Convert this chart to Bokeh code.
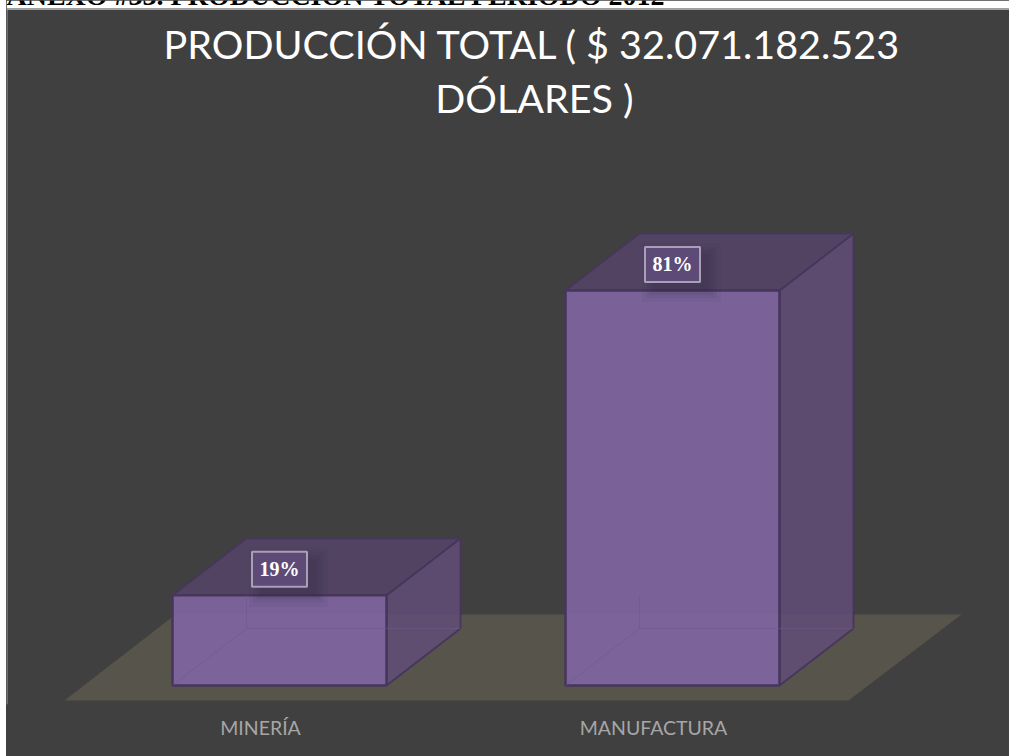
from bokeh.core.properties import value
from bokeh.embed import file_html
from bokeh.models import FixedTicker, Range1d
from bokeh.plotting import figure
from bokeh.resources import INLINE

heading = "ANEXO #33. PRODUCCIÓN TOTAL PERÍODO 2012"
title_lines = ["PRODUCCIÓN TOTAL ( $ 32.071.182.523", "DÓLARES )"]
categories = ["MINERÍA", "MANUFACTURA"]
shares = [18.5, 81.0]
share_labels = ["19%", "81%"]

PAGE_W, PAGE_H = 1009, 756
LEFT = 6
W, H = PAGE_W - LEFT, PAGE_H
BOTTOM = 52
X_UNIT, Y_UNIT = 393.0, 4.877
TICK0_PX, BASE_PX = 260.0, 685.0
frame_h = H - BOTTOM
SHIFT = 19 / X_UNIT
HALF = 107 / X_UNIT
DX, DY = 74 / X_UNIT, 57 / Y_UNIT


def xd(px):
    return (px - TICK0_PX) / X_UNIT


def yd(px):
    return (BASE_PX - px) / Y_UNIT


p = figure(width=W, height=H, output_backend="svg", toolbar_location=None,
           x_range=Range1d(xd(LEFT), xd(PAGE_W)),
           y_range=Range1d(yd(frame_h), yd(0)),
           min_border=0, min_border_bottom=BOTTOM, min_border_left=0, min_border_right=0, min_border_top=0,
           background_fill_color="#404040", border_fill_color="#404040",
           outline_line_color=None,
           styles={"background-color": "#404040"},
           margin=(0, 0, 0, LEFT))
p.grid.visible = False
p.yaxis.visible = False
ax = p.xaxis[0]
ax.ticker = FixedTicker(ticks=list(range(len(categories))))
ax.major_label_overrides = {i: c for i, c in enumerate(categories)}
ax.axis_line_color = None
ax.major_tick_line_color = None
ax.minor_tick_line_color = None
ax.major_label_text_color = "#a6a6a6"
ax.major_label_text_font = "Lato"
ax.major_label_text_font_size = "19.5px"
ax.major_label_standoff = 5

# page strip above the panel and its grey rule
p.quad(left=[xd(LEFT)], right=[xd(PAGE_W)], top=[yd(0)], bottom=[yd(8)], fill_color="#ffffff", line_color=None)
p.quad(left=[xd(LEFT)], right=[xd(PAGE_W)], top=[yd(8)], bottom=[yd(9.5)], fill_color="#a0a0a0", line_color=None)
p.quad(left=[xd(LEFT)], right=[xd(LEFT + 1)], top=[yd(8)], bottom=[yd(frame_h)], fill_color="#a0a0a0", line_color=None)

# floor
p.patch([xd(64), xd(848), xd(961), xd(175)], [yd(700), yd(700), yd(614), yd(614)],
        fill_color="#57544b", line_color=None)

edge = "#46365c"
low = min(shares)
for i, v in enumerate(shares):
    c = i + SHIFT
    l, r = c - HALF, c + HALF
    p.patch([r, r + DX, r + DX, r], [v, v + DY, DY, 0], fill_color="#614e78", fill_alpha=0.85,
            line_color=edge, line_width=1.8)
    p.patch([l, r, r + DX, l + DX], [v, v, v + DY, v + DY], fill_color="#524363",
            line_color=edge, line_width=1.8)
    p.quad(left=[l], right=[r], bottom=[0], top=[v], fill_color="#7f649f", fill_alpha=0.93,
           line_color=edge, line_width=2.5)
    p.line([l, l + DX, r + DX], [0, DY, DY], line_color="#6f5690", line_alpha=0.5, line_width=1)
    p.line([l + DX, l + DX], [DY, low], line_color="#6f5690", line_alpha=0.5, line_width=1)

# data-label boxes with their soft shadow
lx = [i + SHIFT for i in range(len(shares))]
ly = [v + 26 / Y_UNIT for v in shares]
for grow, a in [(22, 0.05), (14, 0.07), (7, 0.09), (0, 0.12)]:
    p.rect(x=[x + 9 / X_UNIT for x in lx], y=[y - 8 / Y_UNIT for y in ly], width=57 + grow, height=37 + grow,
           width_units="screen", height_units="screen", fill_color="#2f2540", fill_alpha=a, line_color=None)
p.rect(x=lx, y=ly, width=55, height=35, width_units="screen", height_units="screen",
       fill_color="#5d4a76", line_color="#a99fb6", line_width=2)
p.text(x=lx, y=ly, text=share_labels, text_color="#ffffff", text_align="center", text_baseline="middle",
       text_font=value("Liberation Serif"), text_font_style="bold", text_font_size="20px")

p.text(x=[xd(532), xd(534)], y=[yd(43), yd(97)], text=title_lines, text_align="center", text_baseline="alphabetic",
       text_color="#ffffff", text_font=value("Lato"), text_font_size="39.5px")
p.text(x=[xd(LEFT)], y=[yd(10)], text=[heading], text_align="left", text_baseline="bottom",
       text_color="#000000", text_font=value("Liberation Serif"), text_font_style="bold", text_font_size="28px")

html = file_html(p, INLINE)
open("out.html", "w").write(html)
